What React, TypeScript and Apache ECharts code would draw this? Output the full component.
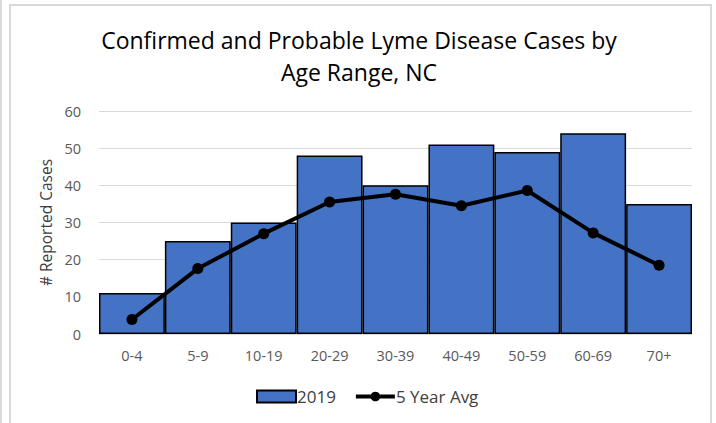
import React, { useEffect, useRef } from "react";
import * as echarts from "echarts";

const categories = ["0-4", "5-9", "10-19", "20-29", "30-39", "40-49", "50-59", "60-69", "70+"];
const cases2019 = [11, 25, 30, 48, 40, 51, 49, 54, 35];
const fiveYearAvg = [3.9, 17.6, 27, 35.5, 37.6, 34.5, 38.6, 27.2, 18.5];
const yTicks = { min: 0, max: 60, interval: 10 };

const FONT = "'Open Sans', sans-serif";

export default function App() {
  const ref = useRef<HTMLDivElement>(null);
  useEffect(() => {
    if (!ref.current) return;
    const chart = echarts.init(ref.current, null, { renderer: "svg" });
    chart.setOption({
      animation: false,
      backgroundColor: "#ffffff",
      textStyle: { fontFamily: FONT },
      title: {
        text: "Confirmed and Probable Lyme Disease Cases by\nAge Range, NC",
        left: 354,
        textAlign: "center",
        top: 19,
        textStyle: { fontFamily: FONT, fontSize: 23, fontWeight: "normal", color: "#000000", lineHeight: 32 },
      },
      graphic: [
        { type: "rect", shape: { x: 0, y: 0, width: 2, height: 423 }, style: { fill: "#d9d9d9" }, silent: true },
        { type: "polyline", shape: { points: [[10, 430], [10, 5], [711, 5], [711, 430]] }, style: { stroke: "#d9d9d9", lineWidth: 2, fill: "none" }, silent: true },
      ],
      legend: {
        bottom: 13,
        left: 251,
        itemGap: 18,
        itemWidth: 39,
        itemHeight: 12,
        textStyle: { fontFamily: FONT, fontSize: 17, color: "#404040", padding: [0, 0, 0, -4] },
        data: [
          { name: "2019", icon: "rect" },
          { name: "5 Year Avg", lineStyle: { width: 4, color: "#000000" } },
        ],
      },
      grid: { left: 99, right: 24, top: 111, bottom: 89, containLabel: false },
      xAxis: {
        type: "category",
        data: categories,
        axisLine: { show: true, lineStyle: { color: "#d9d9d9", width: 1 } },
        axisTick: { show: false },
        axisLabel: { color: "#595959", fontSize: 14.5, margin: 14, fontFamily: FONT },
      },
      yAxis: {
        type: "value",
        min: yTicks.min,
        max: yTicks.max,
        interval: yTicks.interval,
        name: "# Reported Cases",
        nameLocation: "middle",
        nameGap: 44,
        nameTextStyle: { color: "#404040", fontSize: 15.5, fontFamily: FONT },
        axisLine: { show: false },
        axisTick: { show: false },
        axisLabel: { color: "#595959", fontSize: 14.5, margin: 18, fontFamily: FONT },
        splitLine: { lineStyle: { color: "#d9d9d9", width: 1 } },
      },
      series: [
        {
          name: "2019",
          type: "bar",
          data: cases2019,
          barCategoryGap: "0%",
          itemStyle: { color: "#4472c4", borderColor: "#000000", borderWidth: 1.5 },
        },
        {
          name: "5 Year Avg",
          type: "line",
          data: fiveYearAvg,
          symbol: "circle",
          symbolSize: 11,
          lineStyle: { color: "#000000", width: 4 },
          itemStyle: { color: "#000000" },
          z: 5,
        },
      ],
    });
    return () => chart.dispose();
  }, []);
  return (
    <div
      ref={ref}
      style={{ position: "fixed", left: 0, top: 0, width: 716, height: 423 }}
    />
  );
}
